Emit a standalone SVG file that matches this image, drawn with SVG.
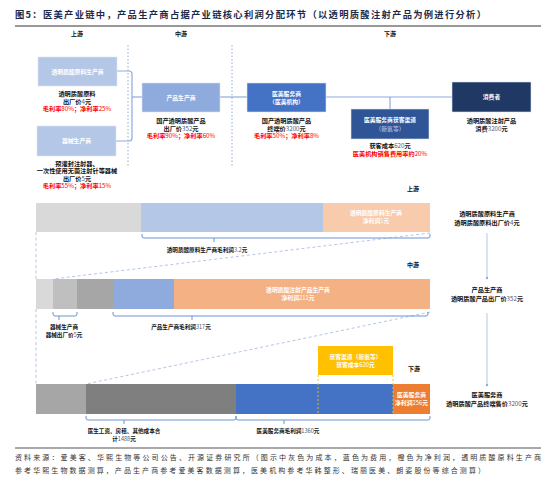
<svg xmlns="http://www.w3.org/2000/svg" width="554" height="489" viewBox="0 0 554 489">
<defs>
<style>
text{font-family:"Noto Sans CJK SC","Noto Sans",sans-serif;font-weight:700;text-anchor:middle}
.t{font-size:9.3px;fill:#1c2a4a;text-anchor:start}
.stage{font-size:6px;fill:#111}
.bx{font-size:5.8px;fill:#fff}
.an{font-size:6.2px;fill:#111}
.red{font-size:6.2px;fill:#ff0000}
.n{font-weight:400;fill:#4a5a7a}
.rn{font-weight:400}
.lab{font-size:5.6px;fill:#111}
.wt{font-size:5.8px;fill:#fff}
.src{font-size:7px;font-weight:400;fill:#333;text-anchor:start}
.conn{fill:none;stroke:#8FAADC;stroke-width:1.2}
.dot{fill:none;stroke:#8FAADC;stroke-width:1;stroke-dasharray:1.5 2}
.dash{fill:none;stroke:#B4C7E7;stroke-width:1;stroke-dasharray:3 2.5}
.ydash{fill:none;stroke:#FFC000;stroke-width:0.9;stroke-dasharray:2 2}
.br{fill:none;stroke:#6F93D2;stroke-width:1}
.vl{fill:none;stroke:#B4C7E7;stroke-width:1}
.box{stroke:#dce4f2;stroke-width:0.6}
</style>
</defs>
<rect width="554" height="489" fill="#fff"/>

<text class="t" x="15" y="18" textLength="471" lengthAdjust="spacing">图5：医美产业链中，产品生产商占据产业链核心利润分配环节（以透明质酸注射产品为例进行分析）</text>
<line x1="15" y1="26" x2="541" y2="26" stroke="#333" stroke-width="1"/>
<text class="stage" x="77" y="36">上游</text>
<text class="stage" x="181" y="36">中游</text>
<text class="stage" x="390" y="36">下游</text>

<g id="connectors">
<line class="dot" x1="128" y1="45" x2="128" y2="166"/>
<line class="dot" x1="232" y1="45" x2="232" y2="166"/>
<path class="conn" d="M117 71 H129 Q132 71 132 74 V138 Q132 141 129 141 H116"/>
<path class="conn" d="M132 97 H142"/>
<path class="conn" d="M220 97 H247"/>
<path class="conn" d="M326 97 H452"/>
<path class="conn" d="M390 97 V109"/>
<line class="dash" x1="36" y1="232" x2="36" y2="279"/>
<line class="dash" x1="430" y1="233" x2="53" y2="279"/>
<line class="dash" x1="36" y1="309" x2="36" y2="384"/>
<line class="dash" x1="430" y1="312" x2="86" y2="384"/>
<line class="vl" x1="487" y1="233" x2="487" y2="278"/>
<circle cx="487" cy="278" r="1.2" fill="#8FAADC"/>
<line class="vl" x1="487" y1="313" x2="487" y2="385"/>
<circle cx="487" cy="385" r="1.2" fill="#8FAADC"/>
<path class="br" d="M142 234 V236 Q142 238 144 238 H428 Q430 238 430 236 V234 M214 238 V242"/>
<path class="br" d="M53 312 V314 Q53 316 55 316 H75 Q77 316 77 314 V312 M59 316 V320"/>
<path class="br" d="M113 312 V314 Q113 316 115 316 H426 Q428 316 428 314 V312 M192 316 V320"/>
<path class="br" d="M86 416 V418 Q86 420 88 420 H234 Q236 420 236 418 V416 M124 420 V424"/>
<path class="br" d="M236 416 V418 Q236 420 238 420 H428 Q430 420 430 418 V416 M284 420 V424"/>
</g>

<g id="raw-material">
<rect class="box" x="38" y="57" width="79" height="29" fill="#B4C7E7"/>
<text class="bx" x="77.5" y="73.5">透明质酸原料生产商</text>
<text class="an" x="77" y="96">透明质酸原料</text>
<text class="an" x="77" y="103.5">出厂价<tspan class="n">4</tspan>元</text>
<text class="red" x="77" y="111">毛利率<tspan class="rn">80%</tspan>；净利率<tspan class="rn">25%</tspan></text>
</g>

<g id="device">
<rect class="box" x="37" y="126" width="79" height="30" fill="#B4C7E7"/>
<text class="bx" x="76.5" y="143">器械生产商</text>
<text class="an" x="77" y="165.5">预灌封注射器、</text>
<text class="an" x="77" y="173">一次性使用无菌注射针等器械</text>
<text class="an" x="77" y="180.5">出厂价<tspan class="n">5</tspan>元</text>
<text class="red" x="77" y="188">毛利率<tspan class="rn">55%</tspan>；净利率<tspan class="rn">15%</tspan></text>
</g>

<g id="producer">
<rect class="box" x="142" y="83" width="78" height="29" fill="#8FAADC"/>
<text class="bx" x="181" y="99.5">产品生产商</text>
<text class="an" x="181" y="123">国产透明质酸产品</text>
<text class="an" x="181" y="130.5">出厂价<tspan class="n">352</tspan>元</text>
<text class="red" x="181" y="138">毛利率<tspan class="rn">90%</tspan>；净利率<tspan class="rn">60%</tspan></text>
</g>

<g id="clinic">
<rect class="box" x="247" y="83" width="79" height="29" fill="#4472C4"/>
<text class="bx" x="286.5" y="96">医美服务商</text>
<text class="bx" x="286.5" y="104">（医美机构）</text>
<text class="an" x="286.5" y="123">国产透明质酸产品</text>
<text class="an" x="286.5" y="130.5">终端价<tspan class="n">3200</tspan>元</text>
<text class="red" x="286.5" y="138">毛利率<tspan class="rn">50%</tspan>；净利率<tspan class="rn">8%</tspan></text>
</g>

<g id="channel">
<rect class="box" x="351" y="109" width="78" height="30" fill="#2F5597"/>
<text class="bx" x="390" y="122">医美服务商获客渠道</text>
<text class="bx" x="390" y="130.5" style="fill:#9DB0D6">（新氧等）</text>
<text class="an" x="390" y="148">获客成本<tspan class="n">620</tspan>元</text>
<text class="red" x="390" y="155.5">医美机构销售费用率约<tspan class="rn">20%</tspan></text>
</g>

<g id="consumer">
<rect class="box" x="452" y="82" width="79" height="30" fill="#203864"/>
<text class="bx" x="491.5" y="99">消费者</text>
<text class="an" x="491.5" y="123">透明质酸注射产品</text>
<text class="an" x="491.5" y="130.5">消费<tspan class="n">3200</tspan>元</text>
</g>

<g id="bar-upstream">
<text class="stage" x="413" y="191">上游</text>
<rect x="36" y="203" width="105" height="29" fill="#D9D9D9"/>
<rect x="141" y="203" width="182" height="29" fill="#B4C7E7"/>
<rect x="323" y="203" width="107" height="29" fill="#F8CBAD"/>
<text class="wt" x="376" y="215">透明质酸原料生产商</text>
<text class="wt" x="376" y="223">净利润<tspan class="rn">1</tspan>元</text>
<text class="lab" x="207" y="252">透明质酸原料生产商毛利润<tspan class="n">3.2</tspan>元</text>
<text class="an" x="487" y="216">透明质酸原料生产商</text>
<text class="an" x="487" y="224.5">透明质酸原料出厂价<tspan class="n">4</tspan>元</text>
</g>

<g id="bar-midstream">
<text class="stage" x="413" y="267">中游</text>
<rect x="36" y="279" width="17" height="30" fill="#D9D9D9"/>
<rect x="53" y="279" width="24" height="30" fill="#BFBFBF"/>
<rect x="77" y="279" width="36" height="30" fill="#A6A6A6"/>
<rect x="113" y="279" width="61" height="30" fill="#8FAADC"/>
<rect x="174" y="279" width="256" height="30" fill="#F4B183"/>
<text class="wt" x="298" y="292">透明质酸注射产品生产商</text>
<text class="wt" x="298" y="300">净利润<tspan class="rn">211</tspan>元</text>
<text class="lab" x="64" y="328.5">器械生产商</text>
<text class="lab" x="64" y="336.5">器械出厂价<tspan class="n">5</tspan>元</text>
<text class="lab" x="181" y="329">产品生产商毛利润<tspan class="n">317</tspan>元</text>
<text class="an" x="487" y="292">产品生产商</text>
<text class="an" x="487" y="300.5">透明质酸产品出厂价<tspan class="n">352</tspan>元</text>
</g>

<g id="bar-downstream">
<rect x="318" y="346" width="75" height="29" fill="#FFC000"/>
<text class="wt" x="355.5" y="359">获客渠道（新氧等）</text>
<text class="wt" x="355.5" y="367">获客成本<tspan class="rn">620</tspan>元</text>
<text class="stage" x="414" y="371">下游</text>
<rect x="36" y="384" width="50" height="30" fill="#A6A6A6"/>
<rect x="86" y="384" width="150" height="30" fill="#7F7F7F"/>
<rect x="236" y="384" width="157" height="30" fill="#4472C4"/>
<rect x="393" y="384" width="37" height="30" fill="#ED7D31"/>
<line class="ydash" x1="318" y1="375" x2="318" y2="414"/>
<line class="ydash" x1="393" y1="375" x2="393" y2="414"/>
<text class="wt" x="411.5" y="397">医美服务商</text>
<text class="wt" x="411.5" y="405">净利润<tspan class="rn">256</tspan>元</text>
<text class="lab" x="124" y="432.5">医生工资、房租、其他成本合</text>
<text class="lab" x="124" y="441">计<tspan class="n">1488</tspan>元</text>
<text class="lab" x="288" y="433">医美服务商毛利润<tspan class="n">1360</tspan>元</text>
<text class="an" x="487" y="397">医美服务商</text>
<text class="an" x="487" y="405.5">透明质酸产品终端售价<tspan class="n">3200</tspan>元</text>
</g>

<line x1="15" y1="448" x2="541" y2="448" stroke="#555" stroke-width="1"/>
<text class="src" x="15" y="460" textLength="526" lengthAdjust="spacing">资料来源：爱美客、华熙生物等公司公告、开源证券研究所（图示中灰色为成本，蓝色为费用，橙色为净利润，透明质酸原料生产商</text>
<text class="src" x="15" y="473" textLength="470" lengthAdjust="spacing">参考华熙生物数据测算，产品生产商参考爱美客数据测算，医美机构参考华韩整形、瑞丽医美、朗姿股份等综合测算）</text>
</svg>
